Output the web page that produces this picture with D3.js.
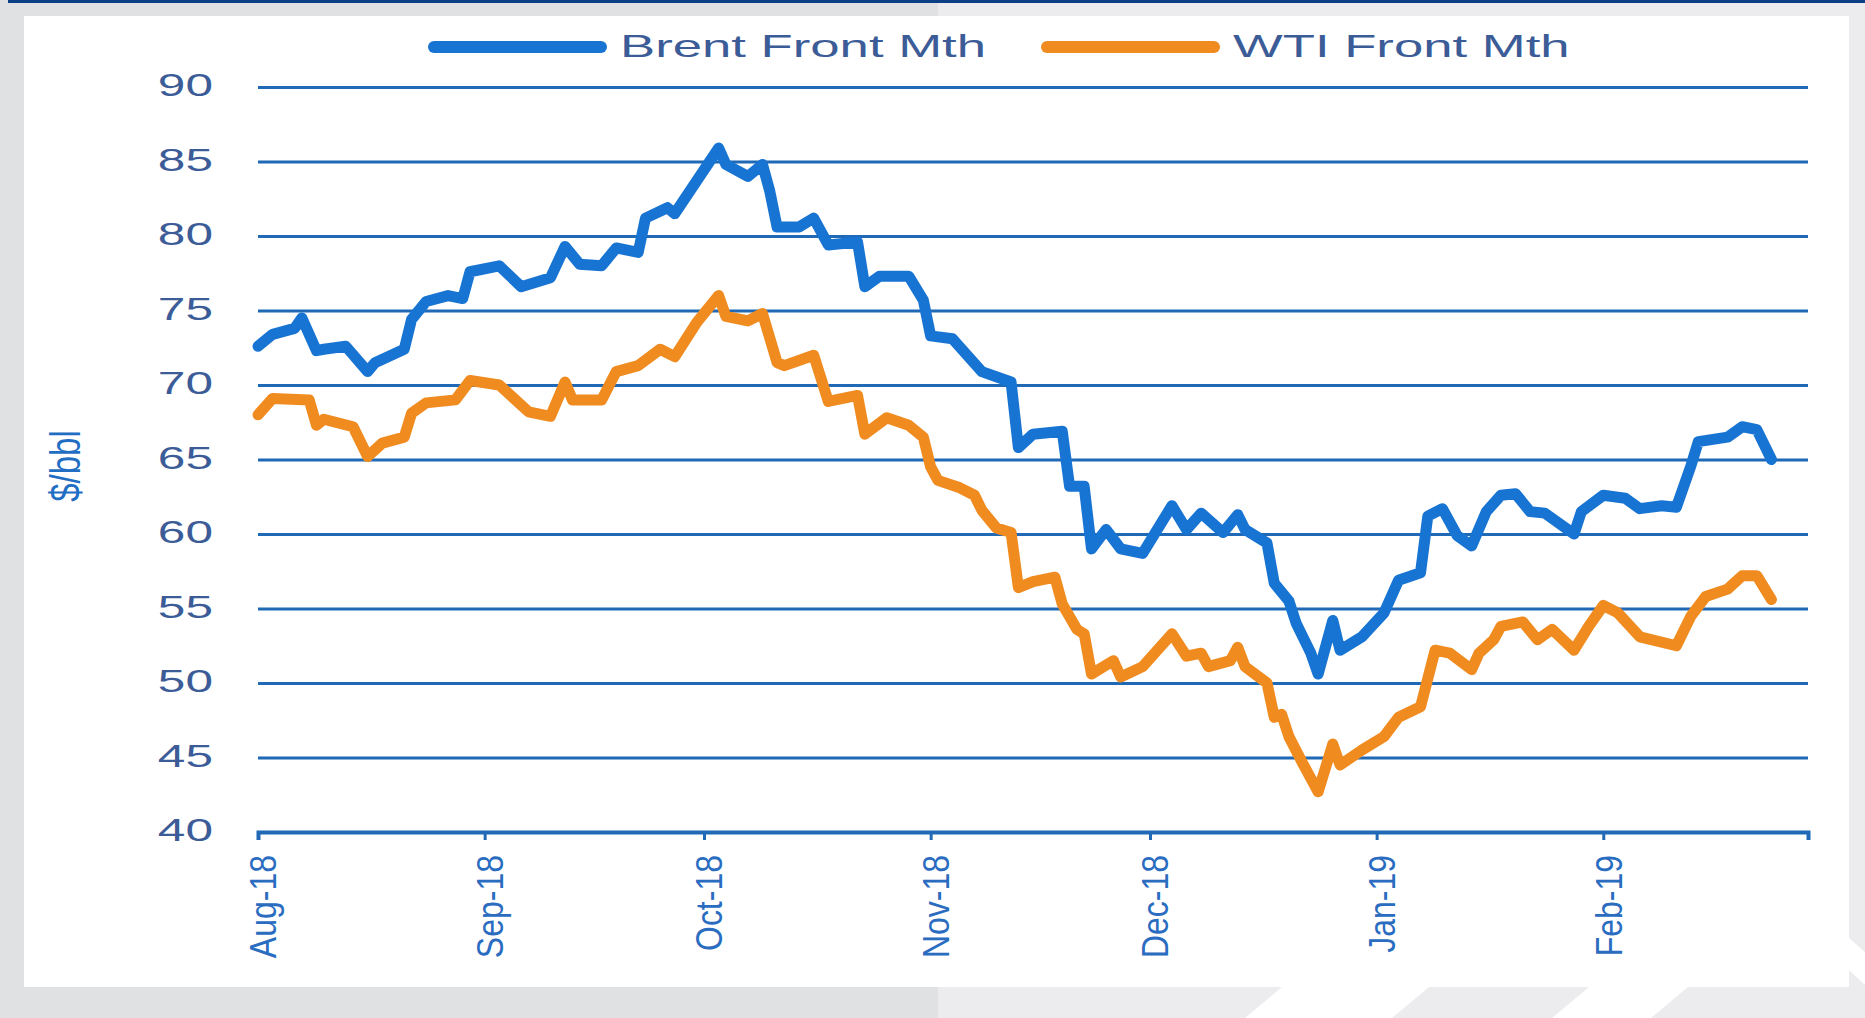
<!DOCTYPE html>
<html>
<head>
<meta charset="utf-8">
<script src="https://d3js.org/d3.v7.min.js"></script>
<style>
  body { margin: 0; overflow: hidden; background: #e1e2e4; }
  svg { display: block; }
</style>
</head>
<body>
<div id="chart"></div>
<script>
// series data
var brentDates = ["2018-08-01","2018-08-03","2018-08-06","2018-08-07","2018-08-09","2018-08-10","2018-08-13","2018-08-16","2018-08-17","2018-08-21",
  "2018-08-22","2018-08-24","2018-08-27","2018-08-29","2018-08-30","2018-09-03","2018-09-06","2018-09-10","2018-09-12","2018-09-14",
  "2018-09-17","2018-09-19","2018-09-22","2018-09-23","2018-09-26","2018-09-27","2018-09-30","2018-10-03","2018-10-04","2018-10-07",
  "2018-10-09","2018-10-10","2018-10-11","2018-10-14","2018-10-16","2018-10-18","2018-10-22","2018-10-23","2018-10-25","2018-10-29",
  "2018-10-31","2018-11-01","2018-11-04","2018-11-08","2018-11-12","2018-11-13","2018-11-15","2018-11-19","2018-11-20","2018-11-22",
  "2018-11-23","2018-11-25","2018-11-27","2018-11-30","2018-12-04","2018-12-06","2018-12-08","2018-12-11","2018-12-13","2018-12-14",
  "2018-12-17","2018-12-18","2018-12-20","2018-12-21","2018-12-23","2018-12-24","2018-12-26","2018-12-27","2018-12-30","2019-01-02",
  "2019-01-04","2019-01-07","2019-01-08","2019-01-10","2019-01-12","2019-01-14","2019-01-16","2019-01-18","2019-01-20","2019-01-22",
  "2019-01-24","2019-01-28","2019-01-29","2019-02-01","2019-02-04","2019-02-06","2019-02-09","2019-02-11","2019-02-13","2019-02-14",
  "2019-02-18","2019-02-20","2019-02-22","2019-02-24"];
var brent = [72.6,73.4,73.8,74.5,72.3,72.4,72.6,70.9,71.5,72.4,
  74.4,75.6,76.0,75.8,77.6,78.0,76.6,77.2,79.3,78.1,
  78.0,79.2,78.9,81.2,81.9,81.5,83.7,85.9,84.8,84.0,
  84.8,83.0,80.6,80.6,81.2,79.4,79.6,76.6,77.3,77.3,
  75.7,73.3,73.1,70.9,70.2,65.8,66.7,66.9,63.2,63.2,
  59.0,60.3,59.0,58.7,61.9,60.3,61.4,60.1,61.3,60.3,
  59.4,56.7,55.5,54.0,52.0,50.6,54.2,52.2,53.1,54.7,
  56.9,57.4,61.2,61.7,59.9,59.2,61.5,62.6,62.7,61.5,
  61.4,60.0,61.5,62.6,62.4,61.7,61.9,61.8,64.6,66.2,
  66.5,67.2,67.0,65.0];

var wtiDates = ["2018-08-01","2018-08-03","2018-08-08","2018-08-09","2018-08-10","2018-08-14","2018-08-16","2018-08-18","2018-08-21","2018-08-22",
  "2018-08-24","2018-08-28","2018-08-30","2018-09-03","2018-09-07","2018-09-10","2018-09-12","2018-09-13","2018-09-17","2018-09-19",
  "2018-09-22","2018-09-25","2018-09-27","2018-09-30","2018-10-03","2018-10-04","2018-10-07","2018-10-09","2018-10-11","2018-10-12",
  "2018-10-16","2018-10-18","2018-10-22","2018-10-23","2018-10-26","2018-10-29","2018-10-31","2018-11-01","2018-11-02","2018-11-05",
  "2018-11-07","2018-11-08","2018-11-10","2018-11-12","2018-11-13","2018-11-15","2018-11-18","2018-11-19","2018-11-21","2018-11-22",
  "2018-11-23","2018-11-26","2018-11-27","2018-11-30","2018-12-04","2018-12-06","2018-12-08","2018-12-09","2018-12-12","2018-12-13",
  "2018-12-14","2018-12-17","2018-12-18","2018-12-19","2018-12-20","2018-12-22","2018-12-24","2018-12-26","2018-12-27","2018-12-30",
  "2019-01-02","2019-01-04","2019-01-07","2019-01-09","2019-01-11","2019-01-14","2019-01-15","2019-01-17","2019-01-18","2019-01-21",
  "2019-01-23","2019-01-25","2019-01-28","2019-01-30","2019-02-01","2019-02-03","2019-02-06","2019-02-11","2019-02-13","2019-02-15",
  "2019-02-18","2019-02-20","2019-02-22","2019-02-24"];
var wti = [68.0,69.1,69.0,67.3,67.7,67.2,65.2,66.1,66.5,68.1,
  68.8,69.0,70.3,70.0,68.2,67.9,70.2,69.0,69.0,70.9,
  71.3,72.4,71.9,74.2,76.0,74.6,74.3,74.8,71.5,71.3,
  72.0,68.9,69.3,66.7,67.8,67.3,66.5,64.5,63.6,63.1,
  62.6,61.6,60.4,60.1,56.4,56.8,57.1,55.3,53.6,53.3,
  50.6,51.5,50.4,51.1,53.3,51.8,52.0,51.1,51.5,52.4,
  51.1,50.0,47.7,47.9,46.4,44.5,42.7,45.9,44.5,45.5,
  46.4,47.7,48.4,52.2,52.0,50.9,52.0,52.9,53.8,54.1,
  52.9,53.6,52.2,53.8,55.2,54.7,53.1,52.5,54.5,55.8,
  56.3,57.2,57.2,55.6];

var monthTicks = ["2018-08-01","2018-09-01","2018-10-01","2018-11-01","2018-12-01","2019-01-01","2019-02-01","2019-03-01"];
var yTicks = [40,45,50,55,60,65,70,75,80,85,90];
var seriesNames = ["Brent Front Mth","WTI Front Mth"];
var seriesColors = ["#1874d2","#f08b1f"];

var W = 1865, H = 1018;
var parse = d3.timeParse("%Y-%m-%d");
var fmt = d3.timeFormat("%b-%y");
var font = "'Liberation Sans', Arial, sans-serif";
var gridColor = "#1f69b6";

var svg = d3.select("#chart").append("svg")
  .attr("width", W)
  .attr("height", H);

// slide background
svg.append("rect").attr("x", 0).attr("y", 0).attr("width", W).attr("height", H).attr("fill", "#e0e1e3");
svg.append("rect").attr("x", 938).attr("y", 0).attr("width", W - 938).attr("height", H).attr("fill", "#ececee");
var stripes = [
  [[1245,1018],[1282,987],[1429,987],[1392,1018]],
  [[1552,1018],[1589,987],[1688,987],[1651,1018]],
  [[1849,938],[1865,952],[1865,985],[1849,970]]
];
svg.selectAll("polygon.stripe").data(stripes).enter().append("polygon")
  .attr("class", "stripe")
  .attr("points", function(d) { return d.join(" "); })
  .attr("fill", "#ffffff");
svg.append("rect").attr("x", 8).attr("y", 0).attr("width", W - 8).attr("height", 3).attr("fill", "#0c3f87");
svg.append("rect").attr("x", 24).attr("y", 16).attr("width", 1825).attr("height", 971).attr("fill", "#ffffff");

var x = d3.scaleTime()
  .domain([parse("2018-08-01"), parse("2019-03-01")])
  .range([258, 1808]);
var y = d3.scaleLinear()
  .domain([40, 90])
  .range([832, 87]);

// y axis + gridlines
var yaxis = d3.axisLeft(y)
  .tickValues(yTicks)
  .tickSize(-(1808 - 258))
  .tickPadding(45)
  .tickFormat(d3.format("d"));

var gy = svg.append("g")
  .attr("transform", "translate(258,0)")
  .call(yaxis);
gy.select(".domain").remove();
gy.selectAll(".tick line").attr("stroke", gridColor).attr("stroke-width", 3);
gy.selectAll(".tick text")
  .attr("x", -45 / 1.55)
  .attr("dy", "0.28em")
  .attr("transform", "scale(1.55,1)")
  .attr("fill", "#3c5c98")
  .style("font-family", font)
  .style("font-size", "32px");

// x axis
var xaxis = d3.axisBottom(x)
  .tickValues(monthTicks.map(parse))
  .tickSizeOuter(0)
  .tickSize(8)
  .tickFormat(function(d, i) { return i < monthTicks.length - 1 ? fmt(d) : ""; });

var gx = svg.append("g")
  .attr("transform", "translate(0,832)")
  .call(xaxis);
gx.select(".domain").attr("stroke", gridColor).attr("stroke-width", 4);
gx.selectAll(".tick line").attr("stroke", gridColor).attr("stroke-width", 3);
gx.selectAll(".tick text")
  .attr("x", 0)
  .attr("y", 0)
  .attr("dy", "0.35em")
  .attr("transform", "translate(5,23) scale(1.15,1) rotate(-90)")
  .attr("text-anchor", "end")
  .attr("fill", "#2a6cc0")
  .style("font-family", font)
  .style("font-size", "32px");

// y title
svg.append("text")
  .attr("transform", "translate(80,466) scale(1.3,1) rotate(-90)")
  .attr("text-anchor", "middle")
  .attr("fill", "#1f6ec4")
  .style("font-family", font)
  .style("font-size", "33px")
  .text("$/bbl");

// lines
var line = d3.line()
  .x(function(d) { return x(d.date); })
  .y(function(d) { return y(d.value); });

var series = [
  { name: seriesNames[0], color: seriesColors[0], values: brentDates.map(function(d, i) { return { date: parse(d), value: brent[i] }; }) },
  { name: seriesNames[1], color: seriesColors[1], values: wtiDates.map(function(d, i) { return { date: parse(d), value: wti[i] }; }) }
];

svg.selectAll("path.series")
  .data(series)
  .enter().append("path")
  .attr("class", "series")
  .attr("d", function(d) { return line(d.values); })
  .attr("fill", "none")
  .attr("stroke", function(d) { return d.color; })
  .attr("stroke-width", 11)
  .attr("stroke-linejoin", "round")
  .attr("stroke-linecap", "round");

// legend
var legendX = [434, 1047];
var legend = svg.selectAll("g.legend")
  .data(series)
  .enter().append("g")
  .attr("class", "legend")
  .attr("transform", function(d, i) { return "translate(" + legendX[i] + ",47)"; });
legend.append("line")
  .attr("x1", 0).attr("x2", 167)
  .attr("y1", 0).attr("y2", 0)
  .attr("stroke", function(d) { return d.color; })
  .attr("stroke-width", 12)
  .attr("stroke-linecap", "round");
legend.append("text")
  .attr("transform", "translate(186,10) scale(1.7,1)")
  .attr("fill", "#3c5c98")
  .style("font-family", font)
  .style("font-size", "31px")
  .text(function(d) { return d.name; });
</script>
</body>
</html>
